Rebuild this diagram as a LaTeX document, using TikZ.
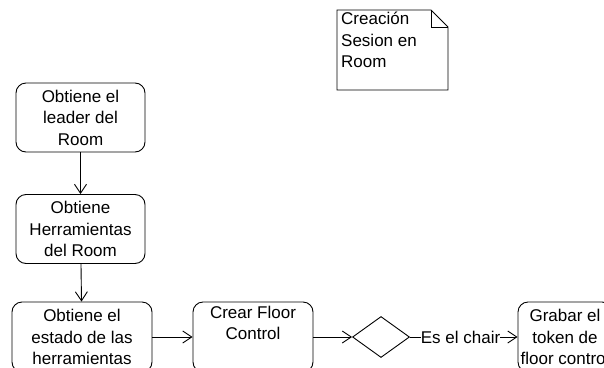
\documentclass[tikz,border=0pt]{standalone}
\usepackage{fontspec}
\setmainfont{Liberation Sans}
\usetikzlibrary{arrows.meta,shapes.geometric}

\tikzset{
    activity/.style={draw, line width=0.9pt, rounded corners=10pt, align=center,
        minimum width=129pt, minimum height=69pt, inner sep=1pt},
    flow/.style={line width=0.9pt, -{Straight Barb[length=9pt,width=12pt,line width=0.9pt]}},
}

\begin{document}
\begin{tikzpicture}[x=1pt, y=-1pt, font=\fontsize{17}{21.5}\selectfont]
    \useasboundingbox (0,0) rectangle (604,367);

    % note
    \draw[line width=0.9pt] (337,10) -- (431,10) -- (448,27) -- (448,90) -- (337,90) -- cycle;
    \draw[line width=0.9pt] (431,10) -- (431,27) -- (448,27);
    \node [anchor=north west, align=left, inner sep=2pt] (note) at (339,10) {Creación\\Sesion en\\Room};

    % room data
    \node [activity] (leader) at (80.5,117.5) {Obtiene el\\leader del\\Room};
    \node [activity] (tools) at (80.5,229) {Obtiene\\Herramientas\\del Room};
    \node [activity, minimum width=140pt, minimum height=70pt] (state) at (82,337) {Obtiene el\\estado de las\\herramientas};

    \draw[flow] (leader) -- (tools);
    \draw[flow] (tools) -- (state);

    % floor control
    \node [activity, minimum width=120pt, minimum height=70pt] (floor) at (253,337) {Crear Floor\\Control\\\strut};
    \node [draw, line width=0.9pt, diamond, minimum width=57pt, minimum height=41pt, inner sep=0pt] (chair) at (381,337) {};
    \node [activity, minimum width=94pt, minimum height=70pt] (token) at (565,337) {Grabar el\\token de\\floor control};

    \draw[flow] (state) -- (floor);
    \draw[flow] (floor) -- (chair);
    \draw[flow] (chair) -- node [pos=0.47, fill=white, inner sep=0pt] {Es el chair} (token);

\end{tikzpicture}
\end{document}
